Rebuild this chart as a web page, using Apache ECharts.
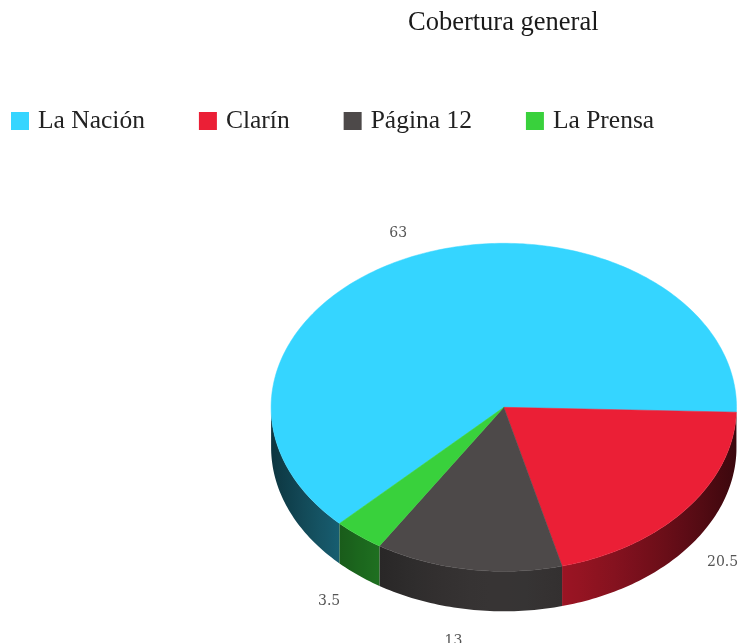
<!DOCTYPE html>
<html><head><meta charset="utf-8">
<style>html,body{margin:0;padding:0;background:#fff}#c{width:738px;height:643px}</style>
<script src="https://cdn.jsdelivr.net/npm/echarts@6/dist/echarts.min.js"></script>
</head><body><div id="c"></div>
<script>
const categories = ['La Nación', 'Clarín', 'Página 12', 'La Prensa'];
const values = [63, 20.5, 13, 3.5];
const colors = ['#35d5ff', '#eb1f36', '#4d4949', '#39d13c'];
const title = 'Cobertura general';

// pie layout
const CX = 503.8, CY = 407.3, RX = 232.7, RY = 164, DEPTH = 40;
const RED_START = 1.7;               // clockwise degrees where the second slice starts
const LABEL_RX = 280, LABEL_RY = 190;
const labelNudge = [[-2, 3], [0, -3], [-7, 6], [0, 6]];

const total = values.reduce((a, b) => a + b, 0);
const spans = values.map(v => v / total * 360);
// the first slice ends where the second starts
const starts = [RED_START - spans[0]];
for (let i = 1; i < values.length; i++) starts[i] = (i === 1 ? RED_START : starts[i - 1] + spans[i - 1]);

function pt(deg, dy) {
  const a = deg * Math.PI / 180;
  return [CX + RX * Math.cos(a), CY + RY * Math.sin(a) + (dy || 0)];
}
function arc(a0, a1, dy) {
  const n = Math.max(2, Math.ceil(Math.abs(a1 - a0)));
  const out = [];
  for (let k = 0; k <= n; k++) out.push(pt(a0 + (a1 - a0) * k / n, dy));
  return out;
}
function shade(t) { return 0.72 - 0.47 * Math.pow(t, 1.5); }
function mul(hex, f) {
  const n = parseInt(hex.slice(1), 16);
  const c = [(n >> 16) & 255, (n >> 8) & 255, n & 255].map(v => Math.round(v * f));
  return 'rgb(' + c.join(',') + ')';
}
function wallGradient(color, x0, x1) {
  const stops = [];
  for (let k = 0; k <= 10; k++) {
    const x = x0 + (x1 - x0) * k / 10;
    stops.push({ offset: k / 10, color: mul(color, shade(Math.min(1, Math.abs(x - CX) / RX))) });
  }
  return new echarts.graphic.LinearGradient(x0, 0, x1, 0, stops, true);
}
function walls(i, a0, a1) {
  const out = [];
  [[0, 180], [360, 540]].forEach(r => {
    const s = Math.max(a0, r[0]), e = Math.min(a1, r[1]);
    if (e <= s) return;
    const top = arc(s, e, 0), bot = arc(e, s, DEPTH);
    const xs = top.map(p => p[0]);
    out.push({
      type: 'polygon', z2: 1, shape: { points: top.concat(bot) },
      style: { fill: wallGradient(colors[i], Math.min(...xs), Math.max(...xs)) }
    });
  });
  return out;
}

const series = categories.map((name, i) => ({
  type: 'custom',
  name,
  coordinateSystem: 'none',
  itemStyle: { color: colors[i] },
  silent: true,
  z: 2,
  data: [[values[i]]],
  renderItem(params, api) {
    const v = api.value(0);
    const span = v / total * 360;
    let a0 = starts[i];
    if (a0 < 0) a0 += 360;
    const a1 = a0 + span;
    const mid = (a0 + a1) / 2;
    const rad = mid * Math.PI / 180;
    const s = Math.sin(rad);
    const lx = CX + LABEL_RX * Math.cos(rad) + labelNudge[i][0];
    const ly = CY + LABEL_RY * s + (s > 0 ? DEPTH : 0) + labelNudge[i][1];
    return {
      type: 'group',
      children: walls(i, a0, a1).concat([
        {
          type: 'polygon', z2: 2,
          shape: { points: [[CX, CY]].concat(arc(a0, a1, 0)) },
          style: { fill: colors[i], stroke: colors[i], lineWidth: 0.5 }
        },
        {
          type: 'text', z2: 3,
          x: lx, y: ly,
          style: {
            text: String(v), fill: '#555', align: 'center', verticalAlign: 'middle',
            font: '14px "DejaVu Serif"'
          }
        }
      ])
    };
  }
}));

const chart = echarts.init(document.getElementById('c'), null, { renderer: 'canvas' });
chart.setOption({
  animation: false,
  backgroundColor: '#fff',
  title: {
    text: title, left: 408, top: 10, padding: 0,
    textStyle: { fontFamily: 'Liberation Serif', fontWeight: 'normal', fontSize: 26.5, color: '#1a1a1a' }
  },
  legend: {
    left: 11, top: 108, padding: 0,
    itemWidth: 18, itemHeight: 18, itemGap: 54, icon: 'rect',
    textStyle: { fontFamily: 'Liberation Serif', fontSize: 25.5, color: '#222', padding: [0, 0, 0, 4] },
    data: categories
  },
  series
});
</script></body></html>
